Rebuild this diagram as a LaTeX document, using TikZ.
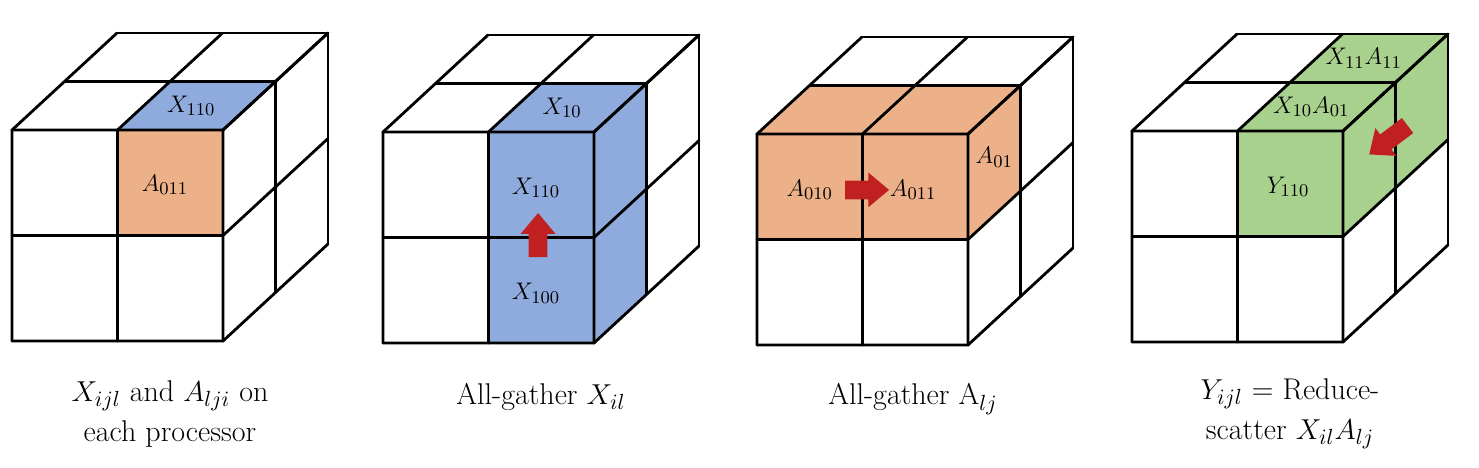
\documentclass[tikz,border=0pt]{standalone}
\usepackage{tikz}
\usetikzlibrary{shapes.arrows}

\definecolor{cellblue}{RGB}{143,170,220}
\definecolor{cellorange}{RGB}{237,177,137}
\definecolor{cellgreen}{RGB}{169,209,142}
\definecolor{arrowred}{RGB}{192,32,32}

\newcommand{\drawcube}{%
        \foreach \k in {0,1,2} {
                \draw[edge] (\k,0,0) -- (\k,2,0) -- (\k,2,2);
                \draw[edge] (0,\k,0) -- (2,\k,0) -- (2,\k,2);
                \draw[edge] (0,2,\k) -- (2,2,\k) -- (2,0,\k);
        }}

\begin{document}
\begin{tikzpicture}[
        x=0.5pt, y=-0.5pt,
        cube/.style = {x={(52.75pt,0pt)}, y={(0pt,52.75pt)}, z={(26.25pt,24.25pt)}},
        edge/.style = {line width=1.4pt, line cap=round, line join=round},
        lbl/.style = {font=\fontsize{13}{15}\selectfont, inner sep=0pt},
        capt/.style = {font=\fontsize{15}{20}\selectfont, align=center},
        fatarrow/.style = {single arrow, fill=arrowred, draw=none, inner sep=4.5pt,
                minimum height=22pt, single arrow head extend=4pt, single arrow tip angle=80},
        ]
        \useasboundingbox (0,0) rectangle (1479,467);

        \begin{scope}[shift={(12,341)}, cube]
        \fill[cellblue] (1,2,0) -- (2,2,0) -- (2,2,1) -- (1,2,1) -- cycle;
        \fill[cellorange] (1,1,0) rectangle (2,2,0);
        \drawcube
        \node[lbl](xa) at (1.45,2,0.5) [] {$X_{110}$};
        \node[lbl](aa) at (1.45,1.48,0) [] {$A_{011}$};
        \end{scope}

        \begin{scope}[shift={(383,343)}, cube]
        \fill[cellblue] (1,0,0) -- (2,0,0) -- (2,0,1) -- (2,2,1) -- (1,2,1) -- (1,2,0) -- cycle;
        \drawcube
        \node[lbl](xb) at (1.45,2,0.5) [] {$X_{10}$};
        \node[lbl](xc) at (1.45,1.47,0) [] {$X_{110}$};
        \node[lbl](xd) at (1.45,0.47,0) [] {$X_{100}$};
        \node[fatarrow, rotate=90](up) at (1.47,0.97,0) [] {};
        \end{scope}

        \begin{scope}[shift={(757,345)}, cube]
        \fill[cellorange] (0,1,0) -- (2,1,0) -- (2,1,1) -- (2,2,1) -- (0,2,1) -- (0,2,0) -- cycle;
        \drawcube
        \node[lbl](ab) at (0.5,1.47,0) [] {$A_{010}$};
        \node[lbl](ac) at (1.48,1.47,0) [] {$A_{011}$};
        \node[lbl](ad) at (2,1.55,0.5) [] {$A_{01}$};
        \node[fatarrow](right) at (0.99,1.47,0) [] {};
        \end{scope}

        \begin{scope}[shift={(1132,342)}, cube]
        \fill[cellgreen] (1,1,0) -- (2,1,0) -- (2,1,2) -- (2,2,2) -- (1,2,2) -- (1,2,0) -- cycle;
        \drawcube
        \node[lbl](ya) at (1.48,1.47,0) [] {$Y_{110}$};
        \node[lbl](yb) at (1.45,2,0.5) [] {$X_{10}A_{01}$};
        \node[lbl](yc) at (1.45,2,1.5) [] {$X_{11}A_{11}$};
        \node[fatarrow, rotate=217, minimum height=24pt](diag) at (2,1.51,0.95) [] {};
        \end{scope}

        \node[capt](c1) at (170,414) [] {$X_{ijl}$ and $A_{lji}$ on\\each processor};
        \node[capt](c2) at (541,397) [] {All-gather $X_{il}$};
        \node[capt](c3) at (913,399) [] {All-gather A$_{lj}$};
        \node[capt](c4) at (1290,414) [] {$Y_{ijl}$ = Reduce-\\scatter $X_{il}A_{lj}$};
\end{tikzpicture}
\end{document}
